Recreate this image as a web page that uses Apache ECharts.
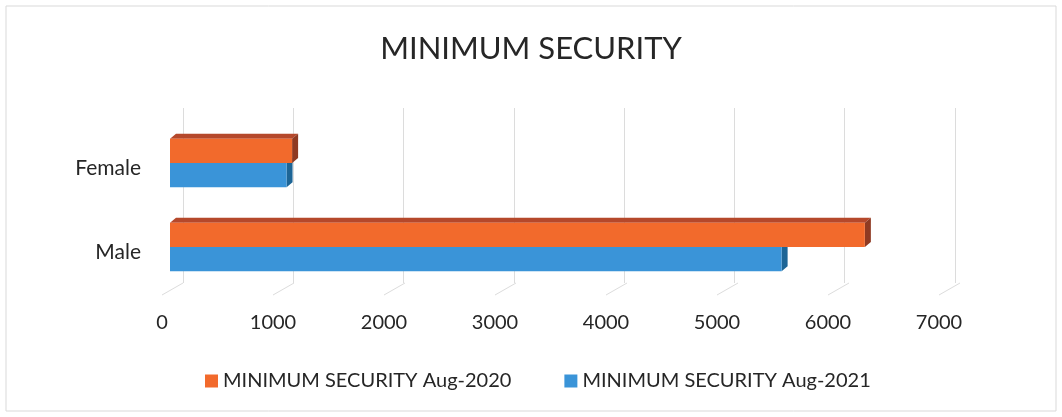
<!DOCTYPE html>
<html>
<head>
<meta charset="utf-8">
<script src="https://cdn.jsdelivr.net/npm/echarts@6/dist/echarts.min.js"></script>
<style>
  html, body { margin: 0; padding: 0; background: #fff; }
  #chart { width: 1062px; height: 417px; }
</style>
</head>
<body>
<div id="chart"></div>
<script>
  const categories = ['Male', 'Female'];
  const aug2020 = [6260, 1100];
  const aug2021 = [5510, 1050];
  const xTicks = [0, 1000, 2000, 3000, 4000, 5000, 6000, 7000];
  const name2020 = 'MINIMUM SECURITY Aug-2020';
  const name2021 = 'MINIMUM SECURITY Aug-2021';

  const FONT = 'Lato';
  const DEPTH_X = 6, DEPTH_Y = 5, SHIFT = 8;

  // 3d-ish horizontal bar: front face + top face + right side
  function bar3d(colors, upper) {
    return function (params, api) {
      const v = api.value(0);
      const cat = api.value(1);
      const start = api.coord([0, cat]);
      const end = api.coord([v, cat]);
      const h = api.size([0, 1])[1] * 0.29;
      const x0 = start[0] + SHIFT, x1 = end[0] + SHIFT;
      const yTop = upper ? start[1] - h : start[1];
      const yBot = yTop + h;
      return {
        type: 'group',
        children: [
          { type: 'polygon', shape: { points: [[x0, yTop], [x1, yTop], [x1 + DEPTH_X, yTop - DEPTH_Y], [x0 + DEPTH_X, yTop - DEPTH_Y]] }, style: { fill: colors[1] } },
          { type: 'polygon', shape: { points: [[x1, yTop], [x1 + DEPTH_X, yTop - DEPTH_Y], [x1 + DEPTH_X, yBot - DEPTH_Y], [x1, yBot]] }, style: { fill: colors[2] } },
          { type: 'rect', shape: { x: x0, y: yTop, width: x1 - x0, height: h }, style: { fill: colors[0] } }
        ]
      };
    };
  }

  const orange = ['#F26A2C', '#B5482B', '#8F3A22'];
  const blue = ['#3A94D8', '#2F78B0', '#1D6596'];

  const chart = echarts.init(document.getElementById('chart'));
  const option = {
    backgroundColor: '#fff',
    animation: false,
    textStyle: { fontFamily: FONT },
    title: {
      text: 'MINIMUM SECURITY',
      left: 'center',
      top: 28,
      textStyle: { fontFamily: FONT, fontSize: 31, fontWeight: 'normal', color: '#262626' }
    },
    legend: {
      data: [name2020, name2021],
      left: 200,
      top: 366,
      icon: 'rect',
      itemWidth: 13,
      itemHeight: 13,
      itemGap: 53,
      textStyle: { fontFamily: FONT, fontSize: 20, color: '#262626' }
    },
    graphic: [{
      type: 'rect',
      shape: { x: 6, y: 6, width: 1050, height: 405 },
      style: { fill: 'none', stroke: '#d9d9d9', lineWidth: 1 },
      silent: true
    }],
    grid: [
      { left: 162, right: 123, top: 121, bottom: 128 },
      { left: 183, right: 107, top: 108, bottom: 134 }
    ],
    xAxis: [
      {
        gridIndex: 0, type: 'value', min: 0, max: 7000, interval: 1000,
        axisLine: { show: false }, axisTick: { show: false }, splitLine: { show: false },
        axisLabel: { margin: 24, fontFamily: FONT, fontSize: 20, color: '#262626', formatter: v => String(v) }
      },
      {
        gridIndex: 1, type: 'value', min: 0, max: 7000, interval: 1000,
        axisLine: { show: false }, axisTick: { show: false }, axisLabel: { show: false },
        splitLine: { show: true, lineStyle: { color: '#dcdcdc', width: 1 } }
      }
    ],
    yAxis: [
      {
        gridIndex: 0, type: 'category', data: categories,
        axisLine: { show: false }, axisTick: { show: false },
        axisLabel: { margin: 21, verticalAlign: 'top', lineHeight: 10, fontFamily: FONT, fontSize: 21, color: '#262626' }
      },
      {
        gridIndex: 1, type: 'category', data: categories, show: false
      }
    ],
    series: [
      {
        name: 'floor',
        type: 'custom',
        xAxisIndex: 0, yAxisIndex: 0,
        silent: true,
        z: 1,
        data: xTicks.map(t => [t, 0]),
        encode: { x: 0, y: 1 },
        renderItem: function (params, api) {
          const x = api.coord([api.value(0), 0])[0];
          const yb = params.coordSys.y + params.coordSys.height;
          return {
            type: 'line',
            shape: { x1: x, y1: yb + 6, x2: x + 21, y2: yb - 6 },
            style: { stroke: '#dcdcdc', lineWidth: 1 }
          };
        }
      },
      {
        name: name2021,
        type: 'custom',
        xAxisIndex: 0, yAxisIndex: 0,
        z: 3,
        itemStyle: { color: blue[0] },
        data: aug2021.map((v, i) => [v, i]),
        encode: { x: 0, y: 1 },
        renderItem: bar3d(blue, false)
      },
      {
        name: name2020,
        type: 'custom',
        xAxisIndex: 0, yAxisIndex: 0,
        z: 4,
        itemStyle: { color: orange[0] },
        data: aug2020.map((v, i) => [v, i]),
        encode: { x: 0, y: 1 },
        renderItem: bar3d(orange, true)
      }
    ]
  };
  chart.setOption(option);
</script>
</body>
</html>
